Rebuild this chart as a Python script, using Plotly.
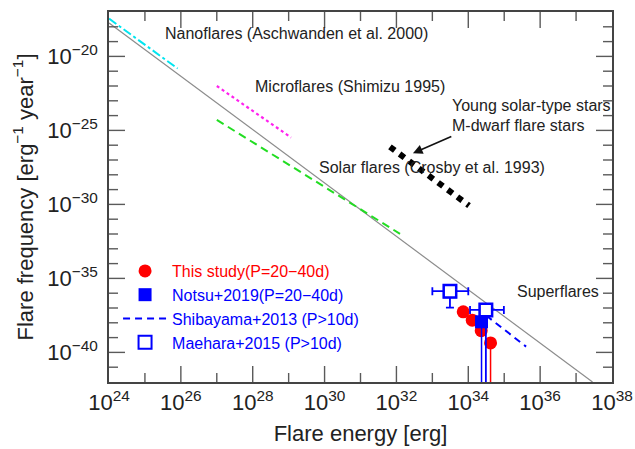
import numpy as np
import plotly.graph_objects as go

# ---- data ----
powerlaw_E = [1e24, 2.88e37]
powerlaw_F = [1.82e-18, 1e-42]

nano_E = [1e24, 8.13e25]
nano_F = [3.55e-18, 1.51e-21]

micro_E = [1e27, 1.17e29]
micro_F = [1e-22, 3.31e-26]

solar_E = [1e27, 1.26e32]
solar_F = [5.13e-25, 1.02e-32]

stars_E = [6.61e31, 1.05e34]
stars_F = [7.76e-27, 8.32e-31]

study_E = [7.24e33, 1.29e34, 2.29e34, 4.17e34]
study_F = [5.5e-38, 1.51e-38, 2.95e-39, 4.37e-40]
study_F_low = [5.5e-38, 1.51e-38, 2.95e-39, 1e-50]

notsu_E = [2.34e34]
notsu_F = [1.17e-38]
notsu_F_low = [1e-50]

shiba_E = [3.16e34, 4.07e35]
shiba_F = [3.09e-38, 2.45e-40]

maehara_E = [3.09e33, 3.09e34]
maehara_E_low = [1e33, 1.12e34]
maehara_E_high = [1e34, 9.8e34]
maehara_F = [1.38e-36, 7.41e-38]
maehara_F_low = [1.07e-37, 1e-50]

x_major_exp = list(range(24, 39, 2))
x_minor_exp = list(range(25, 38, 2))
y_major_exp = [-40, -35, -30, -25, -20]
y_minor_exp = [e for e in range(-41, -17) if e % 5 != 0]
X_RANGE = [24, 38]
Y_RANGE = [-42, -17]


def pow_label(e):
    s = str(e).replace("-", "\u2212")
    return "10<sup>" + s + "</sup>"


FONT = "Liberation Sans, Arial, Helvetica, sans-serif"
RED = "#ff0000"
BLUE = "#0000ff"
TICKC = "#5a5a5a"
W, H = 635, 449
ML, MR, MT, MB = 109, 23, 12, 67
PW, PH = W - ML - MR, H - MT - MB
MAJOR_LEN, MINOR_LEN = 16, 9

fig = go.Figure()

fig.add_trace(go.Scatter(x=powerlaw_E, y=powerlaw_F, mode="lines",
                         line=dict(color="#8c8c8c", width=1.2), showlegend=False))
fig.add_trace(go.Scatter(x=nano_E, y=nano_F, mode="lines",
                         line=dict(color="#00e5f0", width=2, dash="dashdot"), showlegend=False))
fig.add_trace(go.Scatter(x=micro_E, y=micro_F, mode="lines",
                         line=dict(color="#ff22ee", width=2.2, dash="dot"), showlegend=False))
fig.add_trace(go.Scatter(x=solar_E, y=solar_F, mode="lines",
                         line=dict(color="#22dd22", width=2, dash="8px,5px"), showlegend=False))
fig.add_trace(go.Scatter(x=stars_E, y=stars_F, mode="lines",
                         line=dict(color="#000000", width=6, dash="dot"), showlegend=False))

# This study
fig.add_trace(go.Scatter(
    x=study_E, y=study_F, mode="markers",
    marker=dict(symbol="circle", size=13, color=RED),
    error_y=dict(type="data", symmetric=False,
                 array=[0] * len(study_F),
                 arrayminus=list(np.array(study_F) - np.array(study_F_low)),
                 color=RED, thickness=1.5, width=0),
    name="<span style='color:#ff0000'>This study(P=20\u221240d)</span>"))

# Notsu+2019
fig.add_trace(go.Scatter(
    x=notsu_E, y=notsu_F, mode="markers",
    marker=dict(symbol="square", size=13, color=BLUE),
    error_y=dict(type="data", symmetric=False,
                 array=[0] * len(notsu_F),
                 arrayminus=list(np.array(notsu_F) - np.array(notsu_F_low)),
                 color=BLUE, thickness=1.5, width=0),
    name="Notsu+2019(P=20\u221240d)"))

# Shibayama+2013
fig.add_trace(go.Scatter(
    x=shiba_E, y=shiba_F, mode="lines",
    line=dict(color=BLUE, width=2, dash="7px,5px"),
    name="Shibayama+2013 (P>10d)"))

# Maehara+2015
fig.add_trace(go.Scatter(
    x=maehara_E, y=maehara_F, mode="markers",
    marker=dict(symbol="square-open", size=13, color=BLUE, line=dict(width=2)),
    error_x=dict(type="data", symmetric=False,
                 array=list(np.array(maehara_E_high) - np.array(maehara_E)),
                 arrayminus=list(np.array(maehara_E) - np.array(maehara_E_low)),
                 color=BLUE, thickness=1.8, width=4),
    error_y=dict(type="data", symmetric=False,
                 array=[0] * len(maehara_F),
                 arrayminus=list(np.array(maehara_F) - np.array(maehara_F_low)),
                 color=BLUE, thickness=1.8, width=4),
    name="Maehara+2015 (P>10d)"))
# white fill behind open squares
fig.add_trace(go.Scatter(
    x=maehara_E, y=maehara_F, mode="markers",
    marker=dict(symbol="square", size=12, color="white",
                line=dict(width=2, color=BLUE)),
    showlegend=False, hoverinfo="skip"))

txt = dict(family=FONT, size=16, color="#222222")
annotations = [
    dict(x=25.50, y=-18.48, text="Nanoflares (Aschwanden et al. 2000)"),
    dict(x=28.02, y=-22.05, text="Microflares (Shimizu 1995)"),
    dict(x=33.49, y=-23.35, text="Young solar-type stars"),
    dict(x=33.49, y=-24.70, text="M-dwarf flare stars"),
    dict(x=29.78, y=-27.50, text="Solar flares (Crosby et al. 1993)"),
    dict(x=35.30, y=-35.91, text="Superflares"),
]
for a in annotations:
    a.update(xref="x", yref="y", xanchor="left", yanchor="middle",
             showarrow=False, font=txt)
annotations.append(dict(x=32.46, y=-26.54, ax=33.57, ay=-25.37,
                        xref="x", yref="y", axref="x", ayref="y",
                        text="", showarrow=True, arrowhead=2, arrowsize=1.2,
                        arrowwidth=1.6, arrowcolor="#111111"))


def frac(e, rng):
    return (e - rng[0]) / (rng[1] - rng[0])


# inside tick marks on all four sides (positions from the tick exponent lists)
shapes = []
tick_line = dict(color=TICKC, width=1.4)
for exps, ln in [(x_major_exp[1:-1], MAJOR_LEN), (x_minor_exp, MINOR_LEN)]:
    f = ln / PH
    for e in exps:
        p = frac(e, X_RANGE)
        shapes.append(dict(type="line", xref="x domain", yref="y domain", x0=p, x1=p,
                           y0=0, y1=f, line=tick_line, layer="above"))
        shapes.append(dict(type="line", xref="x domain", yref="y domain", x0=p, x1=p,
                           y0=1, y1=1 - f, line=tick_line, layer="above"))
for exps, ln in [(y_major_exp, MAJOR_LEN), (y_minor_exp, MINOR_LEN)]:
    f = ln / PW
    for e in exps:
        p = frac(e, Y_RANGE)
        shapes.append(dict(type="line", xref="x domain", yref="y domain", x0=0, x1=f,
                           y0=p, y1=p, line=tick_line, layer="above"))
        shapes.append(dict(type="line", xref="x domain", yref="y domain", x0=1, x1=1 - f,
                           y0=p, y1=p, line=tick_line, layer="above"))

fig.update_layout(
    template="none",
    width=W, height=H,
    margin=dict(l=ML, r=MR, t=MT, b=MB, pad=0),
    paper_bgcolor="white", plot_bgcolor="white",
    font=dict(family=FONT, color="#222222"),
    annotations=annotations,
    shapes=shapes,
    showlegend=True,
    legend=dict(x=0.018, y=0.346, xanchor="left", yanchor="top",
                bgcolor="rgba(0,0,0,0)", itemwidth=44, borderwidth=0,
                font=dict(family=FONT, size=16, color=BLUE)),
)

for upd, major, rng, title, standoff in [
    (fig.update_xaxes, x_major_exp, [X_RANGE[0] - 0.001, X_RANGE[1] + 0.001],
     "Flare energy [erg]", 11),
    (fig.update_yaxes, y_major_exp, Y_RANGE,
     "Flare frequency [erg<sup>\u22121</sup> year<sup>\u22121</sup>]", 8),
]:
    upd(type="log", range=rng, automargin=False,
        showgrid=False, zeroline=False,
        showline=True, linecolor="#444444", linewidth=1.5, mirror=True,
        ticks="", tickmode="array",
        tickvals=[10.0 ** e for e in major],
        ticktext=[pow_label(e) for e in major],
        tickfont=dict(family=FONT, size=22, color="#222222"),
        title=dict(text=title, standoff=standoff,
                   font=dict(family=FONT, size=22, color="#222222")))
fig.update_yaxes(ticklabelstandoff=5)

fig.write_html("out.html", config={"displayModeBar": False},
               post_script="document.body.style.margin='0px';document.body.style.padding='0px';")
